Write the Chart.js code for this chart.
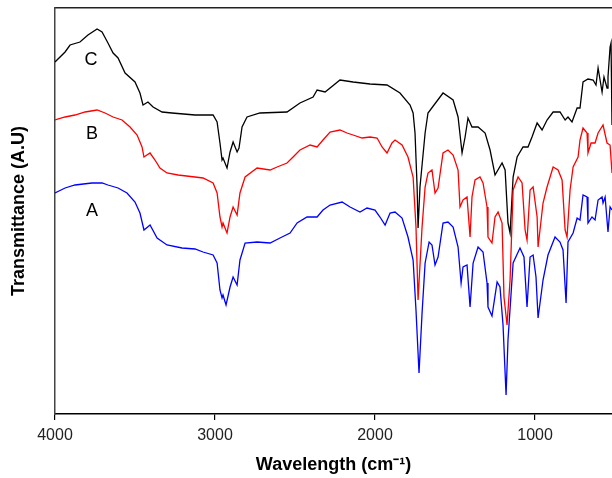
<!DOCTYPE html>
<html lang="en">
<head>
    <meta charset="UTF-8"/>
    <script src="https://cdn.jsdelivr.net/npm/chart.js@4.4.1/dist/chart.umd.min.js"></script>
    <title>FTIR spectra</title>
    <style>
        html, body { margin: 0; padding: 0; background: #fff; }
        #wrap { width: 612px; height: 478px; }
    </style>
</head>
<body>
<div id="wrap">
    <canvas id="ftirChart" width="612" height="478"></canvas>
</div>
<script>
    // wavenumber (cm-1) and transmittance (arbitrary units)
    const cWave = [4000, 3937, 3906, 3844, 3794, 3737, 3706, 3669, 3637, 3606, 3562, 3500, 3469, 3450, 3419, 3387, 3331, 3269, 3125, 3012,
        2987, 2969, 2956, 2950, 2925, 2906, 2887, 2862, 2850, 2831, 2800, 2719, 2550, 2469, 2387, 2362, 2312, 2219, 2137, 2031,
        1925, 1844, 1781, 1762, 1750, 1737, 1731, 1719, 1687, 1669, 1575, 1512, 1481, 1456, 1437, 1419, 1394, 1356, 1312, 1281,
        1250, 1206, 1187, 1169, 1156, 1137, 1112, 1075, 1044, 1019, 987, 956, 925, 887, 844, 812, 794, 769, 737, 719,
        700, 669, 637, 619, 606, 581, 569, 550, 544, 531, 525, 519];
    const cTrans = [352, 362, 369, 372, 379, 385, 382, 371, 361, 356, 341, 332, 321, 309, 312, 307, 302, 301, 299, 299,
        292, 271, 254, 256, 246, 262, 272, 262, 266, 287, 297, 301, 302, 311, 317, 324, 322, 334, 332, 330,
        329, 321, 309, 301, 281, 227, 186, 227, 281, 301, 321, 314, 297, 261, 277, 296, 287, 287, 281, 264,
        239, 251, 244, 191, 181, 237, 257, 267, 267, 277, 291, 284, 294, 302, 302, 294, 297, 292, 306, 306,
        332, 335, 334, 329, 346, 322, 337, 326, 337, 367, 371, 289];

    const bWave = [4000, 3937, 3875, 3812, 3737, 3687, 3637, 3581, 3531, 3487, 3456, 3444, 3406, 3375, 3344, 3300, 3231, 3125, 3075, 3012,
        2987, 2969, 2956, 2950, 2925, 2906, 2887, 2862, 2844, 2812, 2737, 2656, 2612, 2550, 2512, 2469, 2406, 2362, 2325, 2281,
        2219, 2175, 2137, 2081, 2031, 1987, 1956, 1925, 1894, 1875, 1831, 1794, 1762, 1744, 1731, 1706, 1687, 1669, 1644, 1625,
        1606, 1575, 1544, 1512, 1481, 1469, 1450, 1425, 1406, 1394, 1375, 1344, 1325, 1300, 1294, 1269, 1250, 1231, 1206, 1194,
        1175, 1156, 1137, 1106, 1081, 1062, 1050, 1031, 1012, 987, 981, 950, 925, 887, 856, 831, 812, 800, 781, 762,
        731, 719, 700, 675, 669, 650, 625, 606, 575, 550, 531, 519];
    const bTrans = [294, 297, 299, 302, 304, 301, 297, 294, 287, 279, 267, 257, 261, 254, 246, 241, 239, 237, 236, 231,
        221, 197, 187, 191, 181, 197, 207, 199, 221, 237, 246, 244, 247, 251, 257, 264, 269, 267, 274, 282,
        284, 281, 279, 276, 277, 276, 267, 261, 271, 274, 269, 257, 237, 187, 114, 187, 227, 241, 244, 221,
        226, 261, 264, 259, 244, 207, 214, 217, 177, 217, 234, 237, 231, 207, 177, 171, 197, 202, 191, 117,
        89, 134, 224, 237, 231, 184, 174, 224, 227, 197, 167, 211, 227, 247, 244, 234, 184, 177, 224, 247,
        257, 274, 286, 281, 261, 271, 271, 281, 289, 271, 269, 241];

    const aWave = [4000, 3937, 3875, 3769, 3706, 3669, 3606, 3550, 3500, 3469, 3444, 3406, 3362, 3300, 3206, 3125, 3075, 3012, 2987, 2969,
        2956, 2950, 2931, 2906, 2887, 2862, 2844, 2812, 2737, 2656, 2594, 2531, 2487, 2425, 2362, 2325, 2281, 2206, 2156, 2094,
        2050, 2000, 1969, 1937, 1906, 1875, 1831, 1794, 1762, 1744, 1725, 1706, 1687, 1662, 1644, 1625, 1606, 1575, 1544, 1512,
        1481, 1462, 1450, 1425, 1406, 1387, 1356, 1325, 1300, 1294, 1269, 1237, 1219, 1200, 1181, 1169, 1137, 1094, 1069, 1050,
        1031, 1012, 994, 981, 950, 919, 875, 844, 825, 806, 794, 762, 737, 719, 700, 675, 669, 644, 625, 606,
        581, 575, 562, 544, 531, 519];
    const aTrans = [221, 226, 229, 231, 231, 229, 226, 221, 212, 201, 184, 189, 176, 169, 166, 165, 162, 159, 151, 124,
        116, 119, 109, 127, 137, 129, 154, 171, 172, 171, 176, 181, 191, 197, 197, 204, 209, 212, 207, 202,
        206, 204, 197, 189, 201, 202, 196, 177, 154, 104, 41, 101, 151, 172, 169, 149, 157, 191, 192, 187,
        167, 131, 147, 149, 107, 151, 167, 162, 131, 107, 98, 132, 127, 89, 19, 74, 151, 166, 157, 107,
        157, 159, 137, 96, 134, 159, 177, 172, 164, 111, 172, 181, 196, 194, 219, 217, 191, 197, 194, 214,
        217, 211, 217, 182, 207, 204];

    const xTicks = [4000, 3000, 2000, 1000];
    const curveNames = ['A', 'B', 'C'];
    const nameWave = [3769, 3769, 3775];
    const nameTrans = [203, 280, 354];

    function toPoints(xs, ys) {
        return xs.map((x, i) => ({x: x, y: ys[i]}));
    }

    // letters next to each spectrum
    const curveLabels = {
        id: 'curveLabels',
        afterDatasetsDraw(chart) {
            const ctx = chart.ctx;
            const xs = chart.scales.x, ys = chart.scales.y;
            ctx.save();
            ctx.fillStyle = '#000';
            ctx.font = '18px "Liberation Sans", Arial, sans-serif';
            ctx.textAlign = 'center';
            ctx.textBaseline = 'middle';
            curveNames.forEach((n, i) => {
                ctx.fillText(n, xs.getPixelForValue(nameWave[i]), ys.getPixelForValue(nameTrans[i]));
            });
            ctx.restore();
        }
    };

    const font = '"Liberation Sans", Arial, sans-serif';
    const ftir = document.getElementById('ftirChart').getContext('2d');
    const ftirChart = new Chart(ftir, {
        type: 'line',
        data: {
            datasets: [{
                label: 'A',
                data: toPoints(aWave, aTrans),
                borderColor: '#0000ff',
            }, {
                label: 'B',
                data: toPoints(bWave, bTrans),
                borderColor: '#ff0000',
            }, {
                label: 'C',
                data: toPoints(cWave, cTrans),
                borderColor: '#000000',
            }]
        },
        options: {
            responsive: false,
            animation: false,
            layout: {padding: {top: 8, right: 0, left: 0, bottom: 0}},
            elements: {
                line: {borderWidth: 1.3, tension: 0, fill: false},
                point: {radius: 0}
            },
            plugins: {
                legend: {display: false},
                tooltip: {enabled: false}
            },
            scales: {
                x: {
                    type: 'linear',
                    reverse: true,
                    min: 519,
                    max: 4000,
                    afterBuildTicks: (scale) => {
                        scale.ticks = xTicks.map(v => ({value: v}));
                    },
                    afterFit: (scale) => {
                        scale.height = 64;
                    },
                    border: {display: true, color: '#000', width: 1.5},
                    grid: {display: true, drawOnChartArea: false, drawTicks: true, tickLength: 6, color: '#000', lineWidth: 1.2},
                    ticks: {
                        color: '#222',
                        font: {family: font, size: 16},
                        padding: 6,
                        maxRotation: 0,
                        callback: (v) => String(v)
                    },
                    title: {
                        display: true,
                        text: 'Wavelength (cm⁻¹)',
                        color: '#000',
                        font: {family: font, size: 18, weight: 'bold'},
                        padding: {top: 4, bottom: 2}
                    }
                },
                x2: {
                    type: 'linear',
                    position: 'top',
                    reverse: true,
                    min: 519,
                    max: 4000,
                    afterFit: (scale) => {
                        scale.height = 0;
                    },
                    border: {display: true, color: '#222', width: 1.5},
                    grid: {display: false},
                    ticks: {display: false}
                },
                y: {
                    min: 0,
                    max: 406,
                    afterFit: (scale) => {
                        scale.width = 55;
                    },
                    border: {display: true, color: '#444', width: 1.5},
                    grid: {display: false},
                    ticks: {display: false},
                    title: {
                        display: true,
                        text: 'Transmittance (A.U)',
                        color: '#000',
                        font: {family: font, size: 18, weight: 'bold'},
                        padding: {top: 8, bottom: 4}
                    }
                }
            }
        },
        plugins: [curveLabels]
    });
</script>
</body>
</html>
